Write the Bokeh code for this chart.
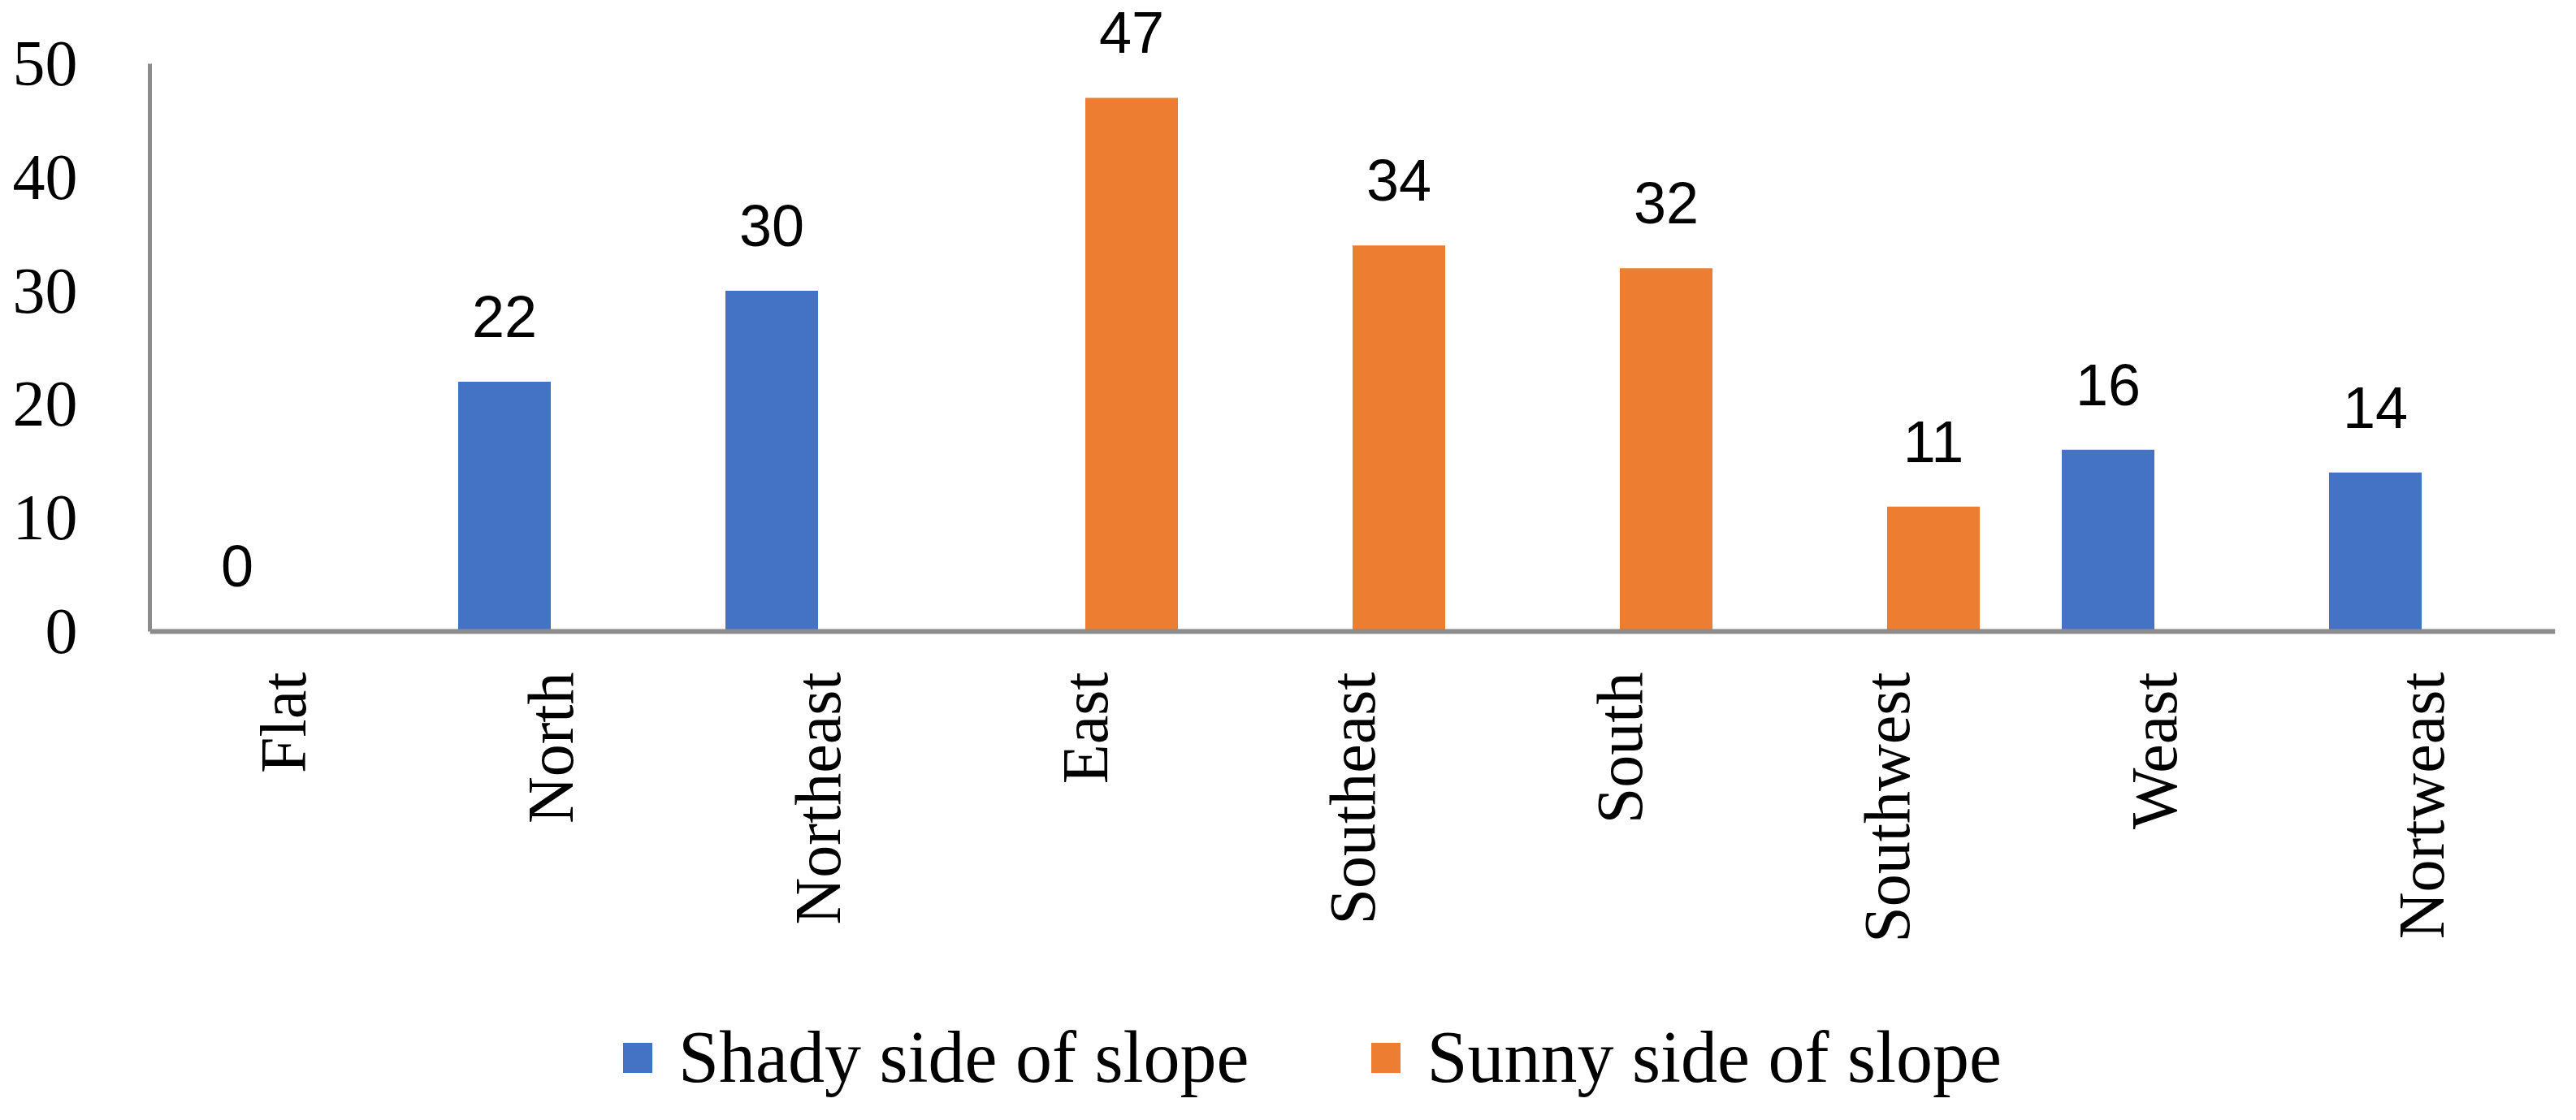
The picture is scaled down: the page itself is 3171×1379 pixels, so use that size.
import math
from bokeh.plotting import figure
from bokeh.models import (ColumnDataSource, Range1d, LabelSet, Legend,
                          LegendItem, FixedTicker, Span)
from bokeh.core.properties import value
from bokeh.embed import file_html
from bokeh.resources import INLINE

# ---- data ----
categories = ["Flat", "North", "Northeast", "East", "Southeast", "South",
              "Southwest", "Weast", "Nortweast"]
shady = [0, 22, 30, None, None, None, None, 16, 14]
sunny = [None, None, None, 47, 34, 32, 11, None, None]
series_names = ["Shady side of slope", "Sunny side of slope"]
y_ticks = [0, 10, 20, 30, 40, 50]

BLUE = "#4472C4"
ORANGE = "#ED7D31"
AXIS = "#8c8c8c"
SERIF = "Liberation Serif"

n = len(categories)
# The frame covers the whole page height: the region below y=0 holds the
# category labels and the legend; the y axis itself is drawn only for 0..50.
p = figure(x_range=Range1d(-0.5, n - 0.5), y_range=Range1d(-41.92, 55.58),
           frame_width=2961, frame_height=1363,
           min_border_left=184, min_border_top=0, min_border_right=2,
           min_border_bottom=0,
           output_backend="svg", toolbar_location=None)
p.outline_line_color = None
p.xgrid.visible = False
p.ygrid.visible = False
p.background_fill_color = "white"
p.xaxis.visible = False

W = 0.3465

def src(vals, off):
    idx = [i for i, v in enumerate(vals) if v is not None]
    v = [vals[i] for i in idx]
    return ColumnDataSource(dict(x=[i + off for i in idx], val=v,
                                 lab=[str(a) for a in v]))

s_shady = src(shady, -W / 2)
s_sunny = src(sunny, W / 2)

r1 = p.vbar(x="x", top="val", bottom=0, width=W,
            source=s_shady, fill_color=BLUE, line_color=None)
r2 = p.vbar(x="x", top="val", bottom=0, width=W,
            source=s_sunny, fill_color=ORANGE, line_color=None)

for s in (s_shady, s_sunny):
    lbl = LabelSet(x="x", y="val", text="lab", source=s,
                   text_align="center", text_baseline="alphabetic", y_offset=55,
                   text_font=value("Liberation Sans"), text_font_size="72px",
                   text_color="black")
    p.add_layout(lbl)

# horizontal category axis line at y = 0
p.add_layout(Span(location=0, dimension="width", line_color=AXIS, line_width=6))

# category labels, rotated to read bottom-to-top, hanging below the axis line
cat_src = ColumnDataSource(dict(x=list(range(n)), y=[0] * n, t=categories))
p.text(x="x", y="y", text="t", source=cat_src, angle=math.pi / 2,
       text_align="right", text_baseline="middle", y_offset=50,
       text_font=value(SERIF), text_font_size="80px", text_color="black")

# vertical value axis
p.yaxis.ticker = FixedTicker(ticks=y_ticks)
p.yaxis.bounds = (0, 50)
p.yaxis.major_tick_line_color = None
p.yaxis.minor_tick_line_color = None
p.yaxis.major_tick_out = 0
p.yaxis.major_tick_in = 0
p.yaxis.axis_line_color = AXIS
p.yaxis.axis_line_width = 5
p.yaxis.major_label_standoff = 89
p.yaxis.major_label_text_font = SERIF
p.yaxis.major_label_text_font_size = "80px"
p.yaxis.major_label_text_color = "black"

legend = Legend(items=[LegendItem(label=series_names[0], renderers=[r1]),
                       LegendItem(label=series_names[1], renderers=[r2])],
                orientation="horizontal", location=(578, 10),
                glyph_width=45, glyph_height=46, label_standoff=28, spacing=146,
                label_text_font=SERIF, label_text_font_size="90px",
                label_text_color="black",
                padding=0, margin=0, border_line_color=None,
                background_fill_alpha=0)
p.add_layout(legend)

open("out.html", "w").write(file_html(p, INLINE))
